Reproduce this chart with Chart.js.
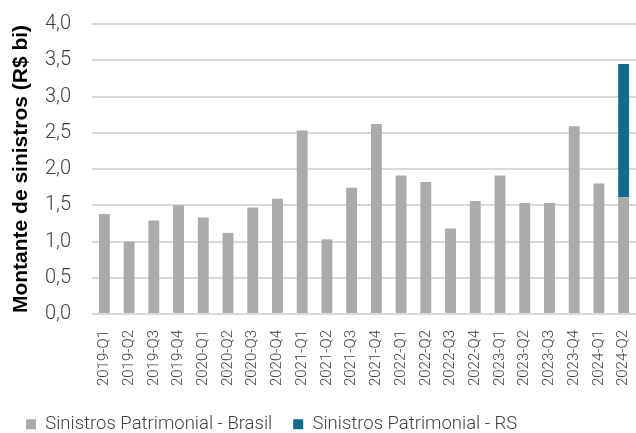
<!DOCTYPE html>
<html>
<head>
<meta charset="utf-8">
<script src="https://cdn.jsdelivr.net/npm/chart.js@4"></script>
<style>
  html, body { margin: 0; padding: 0; background: #fff; }
  #wrap { width: 636px; height: 433px; }
</style>
</head>
<body>
<div id="wrap"><canvas id="chart" width="636" height="433"></canvas></div>
<script>
// quarters on the x axis
const quarters = [
    "2019-Q1", "2019-Q2", "2019-Q3", "2019-Q4",
    "2020-Q1", "2020-Q2", "2020-Q3", "2020-Q4",
    "2021-Q1", "2021-Q2", "2021-Q3", "2021-Q4",
    "2022-Q1", "2022-Q2", "2022-Q3", "2022-Q4",
    "2023-Q1", "2023-Q2", "2023-Q3", "2023-Q4",
    "2024-Q1", "2024-Q2"
];

// R$ bi
const sinistrosBrasil = [
    1.38, 1.00, 1.29, 1.50,
    1.33, 1.12, 1.47, 1.59,
    2.53, 1.03, 1.74, 2.62,
    1.91, 1.82, 1.18, 1.56,
    1.91, 1.53, 1.53, 2.59,
    1.80, 1.61
];
const sinistrosRS = [
    null, null, null, null,
    null, null, null, null,
    null, null, null, null,
    null, null, null, null,
    null, null, null, null,
    null, 1.84
];

const yTicks = [0, 0.5, 1, 1.5, 2, 2.5, 3, 3.5, 4];

const textColor = "#404040";
const tickFont = "Roboto";

new Chart(document.getElementById("chart"), {
    type: "bar",
    data: {
        labels: quarters,
        datasets: [{
            label: "Sinistros Patrimonial - Brasil",
            data: sinistrosBrasil,
            backgroundColor: "#ababab",
            barPercentage: 0.44,
            categoryPercentage: 1
        }, {
            label: "Sinistros Patrimonial - RS",
            data: sinistrosRS,
            backgroundColor: "#156a87",
            barPercentage: 0.44,
            categoryPercentage: 1
        }]
    },
    options: {
        responsive: false,
        animation: false,
        layout: { padding: { left: 5, right: 0, top: 24, bottom: 0 } },
        plugins: {
            tooltip: { enabled: false },
            legend: {
                position: "bottom",
                align: "start",
                maxHeight: 39,
                labels: {
                    color: textColor,
                    font: { family: tickFont, size: 18.5, weight: 300 },
                    boxWidth: 10,
                    boxHeight: 10,
                    padding: 21
                }
            }
        },
        scales: {
            x: {
                stacked: true,
                grid: { display: false },
                border: { display: false },
                afterFit: axis => {
                    axis.height = 80;
                    axis.paddingLeft = 0;
                    axis.paddingRight = 0;
                },
                ticks: {
                    color: textColor,
                    font: { family: tickFont, size: 15, weight: 300 },
                    minRotation: 90,
                    maxRotation: 90,
                    autoSkip: false,
                    padding: 8
                }
            },
            y: {
                stacked: true,
                min: 0,
                max: 4,
                afterBuildTicks: axis => { axis.ticks = yTicks.map(v => ({ value: v })); },
                afterFit: axis => {
                    axis.width = 87;
                    axis.paddingTop = 0;
                    axis.paddingBottom = 0;
                },
                grid: { color: "#d9d9d9", lineWidth: 2, drawTicks: false },
                border: { display: false },
                ticks: {
                    color: textColor,
                    font: { family: tickFont, size: 20, weight: 300 },
                    padding: 21,
                    callback: v => v.toFixed(1).replace(".", ",")
                },
                title: {
                    display: true,
                    text: "Montante de sinistros (R$ bi)",
                    color: "#000",
                    font: { family: "Liberation Sans", size: 21, weight: "bold" },
                    padding: { top: 4, bottom: 0 }
                }
            }
        }
    }
});
</script>
</body>
</html>
